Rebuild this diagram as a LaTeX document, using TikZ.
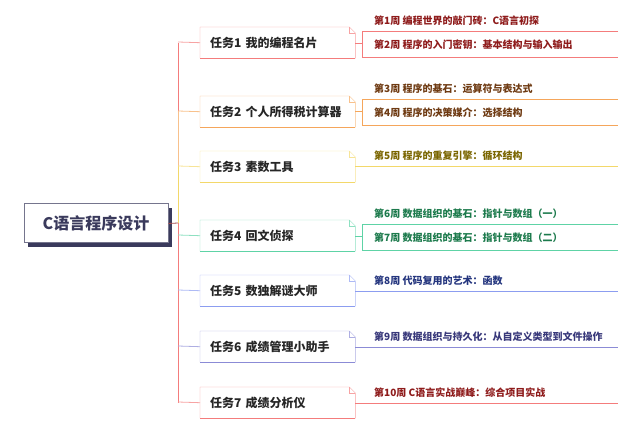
\documentclass[tikz,border=0pt]{standalone}
\usepackage{fontspec}
\setmainfont{Noto Sans CJK SC}
\definecolor{redL}{HTML}{F47C7C}
\definecolor{redT}{HTML}{8E1B1B}
\definecolor{orgL}{HTML}{F5A65B}
\definecolor{orgT}{HTML}{6E3A12}
\definecolor{yelL}{HTML}{F3D86A}
\definecolor{yelT}{HTML}{7A6500}
\definecolor{grnL}{HTML}{5ED3A6}
\definecolor{grnT}{HTML}{1C7A4C}
\definecolor{bluL}{HTML}{8C9DF0}
\definecolor{bluT}{HTML}{24357E}
\definecolor{purL}{HTML}{8B8BD6}
\definecolor{purT}{HTML}{38387A}
\definecolor{rootC}{HTML}{3A3A5C}
\begin{document}
\begin{tikzpicture}[
	x=1pt, y=-1pt,
	root/.style={
		rectangle,
		draw=rootC!70,
		fill=white,
		line width=1pt,
		minimum width=144pt,
		minimum height=39pt,
		font=\bfseries\fontsize{16}{16}\selectfont,
		text=rootC
	},
	task/.style={
		rectangle,
		anchor=north west,
		minimum width=155pt,
		minimum height=31pt,
		text width=135pt,
		inner xsep=10pt,
		text depth=-3pt,
		font=\bfseries\fontsize{12}{12}\selectfont,
		text=black!85
	},
	week/.style={
		anchor=west,
		inner sep=0pt,
		font=\bfseries\fontsize{10}{10}\selectfont
	},
]
\useasboundingbox (0,0) rectangle (642,427);

% root with shadow
\fill[rootC] (28,208) rectangle (172,247);
\node[root] (root) at (96,223.5) {C语言程序设计};

% trunk
\coordinate (tr) at (178,223);
\draw[redT!80, thick] (root.east) -- (tr);
\draw[redL, thick] (178,223) -- (178,403);
\draw[redL, thick] (178,43) -- (178,111);
\draw[orgL!70, thick] (178,111) -- (178,166);
\draw[yelL, thick] (178,166) -- (178,223);

% tasks
\foreach \n/\y/\c/\t in {
	1/26/redL/{任务1 我的编程名片},
	2/95/orgL/{任务2 个人所得税计算器},
	3/150/yelL/{任务3 素数工具},
	4/219/grnL/{任务4 回文侦探},
	5/274/bluL/{任务5 数独解谜大师},
	6/330/purL/{任务6 成绩管理小助手},
	7/386/redL/{任务7 成绩分析仪}}
{
	\node[task] (t\n) at (200,\y+1) {\t};
	\draw[\c!70] (t\n.south west) -- (t\n.north west) -- ([xshift=-6pt]t\n.north east)
		-- ([yshift=-6pt]t\n.north east) -- (t\n.south east);
	\draw[\c!70] ([xshift=-6pt]t\n.north east) -- ([xshift=-6pt,yshift=-6pt]t\n.north east)
		-- ([yshift=-6pt]t\n.north east);
	\draw[\c, thick] (t\n.south west) -- (t\n.south east);
	\draw[\c!70, thick] (178,\y+16) -- (t\n.west);
}

% weeks, two per task
\foreach \n/\y/\c/\d/\a/\b in {
	1/43/redL/redT/{第1周 编程世界的敲门砖：C语言初探}/{第2周 程序的入门密钥：基本结构与输入输出},
	2/111/orgL/orgT/{第3周 程序的基石：运算符与表达式}/{第4周 程序的决策媒介：选择结构},
	4/236/grnL/grnT/{第6周 数据组织的基石：指针与数组（一）}/{第7周 数据组织的基石：指针与数组（二）}}
{
	\coordinate (b\n) at (362,\y);
	\draw[\c] (t\n.east |- b\n) -- (b\n);
	\draw[\c] (618,\y-12) -- (362,\y-12) -- (362,\y+14) -- (618,\y+14);
	\node[week, text=\d] (wa\n) at (374,\y-22) {\a};
	\node[week, text=\d] (wb\n) at (374,\y+2) {\b};
}

% weeks, one per task
\foreach \n/\y/\c/\d/\a in {
	3/166/yelL/yelT/{第5周 程序的重复引擎：循环结构},
	5/291/bluL/bluT/{第8周 代码复用的艺术：函数},
	6/347/purL/purT/{第9周 数据组织与持久化：从自定义类型到文件操作},
	7/403/redL/redT/{第10周 C语言实战巅峰：综合项目实战}}
{
	\coordinate (e\n) at (618,\y);
	\draw[\c] (t\n.east |- e\n) -- (e\n);
	\node[week, text=\d] (w\n) at (374,\y-10) {\a};
}
\end{tikzpicture}
\end{document}
